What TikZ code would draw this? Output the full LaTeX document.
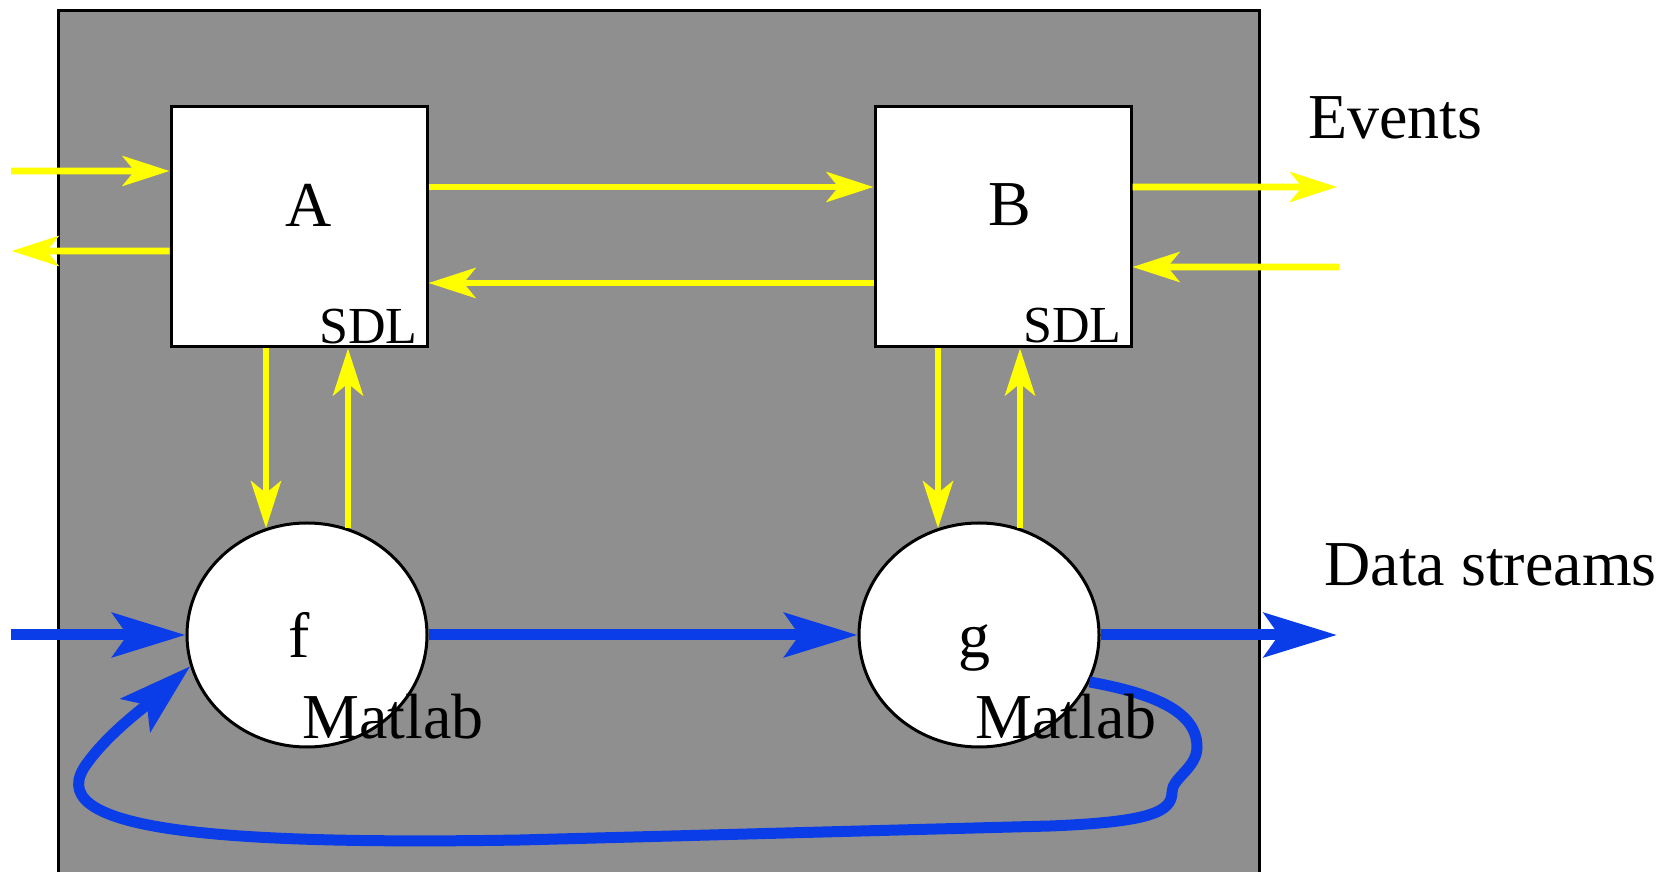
\documentclass[tikz,border=0pt]{standalone}
\usepackage{fontspec}
\setmainfont{Liberation Serif}
\usepackage{xcolor}
\usepackage{tikz}
\usetikzlibrary{arrows.meta,shapes.geometric}
\definecolor{panelgray}{RGB}{143,143,143}
\definecolor{evyellow}{RGB}{255,255,0}
\definecolor{dsblue}{RGB}{10,61,232}

\begin{document}
\begin{tikzpicture}[x=50pt, y=50pt, font=\fontsize{32}{38}\selectfont,
  sdl/.style={draw, line width=1.5pt, fill=white, minimum width=128pt, minimum height=120pt, inner sep=0pt},
  mat/.style={draw, ellipse, line width=1.5pt, fill=white, minimum width=120pt, minimum height=112pt, inner sep=0pt},
  ev/.style={draw=evyellow, line width=3.3pt, -{Stealth[length=23.5pt, width=15pt, inset=6pt]}},
  ds/.style={draw=dsblue, line width=5.5pt, line join=round, -{Stealth[length=36.5pt, width=22pt, inset=7.5pt]}},
  lbl/.style={inner sep=0pt, anchor=base},
  tag/.style={inner sep=0pt, anchor=base west},
  sdltag/.style={inner sep=0pt, anchor=base east, font=\fontsize{26}{30}\selectfont}]
\useasboundingbox (0,0) rectangle (16.73,8.72);
% ================= panel =================
\fill[panelgray] (0.587,0) rectangle (12.59,8.613);
\draw[line width=1.5pt] (0.587,0) -- (0.587,8.613) -- (12.59,8.613) -- (12.59,0);
% ================= SDL blocks and Matlab functions =================
\node[sdl] (A) at (2.99,6.45) {};
\node[sdl] (B) at (10.03,6.45) {};
\node[mat] (f) at (3.07,2.37) {};
\node[mat] (g) at (9.79,2.37) {};
% ================= events (yellow) =================
\coordinate (evinA) at (0.11,7.01);
\coordinate (evoutA) at (0.117,6.21);
\coordinate (evoutB) at (13.37,6.85);
\coordinate (evinB) at (13.39,6.05);
\draw[ev] (evinA) -- ([yshift=28pt]A.west);
\draw[ev] ([yshift=-12pt]A.west) -- (evoutA);
\draw[ev] ([yshift=20pt]A.east) -- ([yshift=20pt]B.west);
\draw[ev] ([yshift=-28pt]B.west) -- ([yshift=-28pt]A.east);
\draw[ev] ([yshift=20pt]B.east) -- (evoutB);
\draw[ev] (evinB) -- ([yshift=-20pt]B.east);
\draw[ev] (A.south -| f.111) -- (f.111);
\draw[ev] (f.69) -- (A.south -| f.69);
\draw[ev] (B.south -| g.111) -- (g.111);
\draw[ev] (g.69) -- (B.south -| g.69);
% ================= data streams (blue) =================
\coordinate (dsin) at (0.11,2.37);
\coordinate (dsout) at (13.37,2.37);
\draw[ds] (dsin) -- (f.west);
\draw[ds] (f.east) -- (g.west);
\draw[ds] (g.east) -- (dsout);
\draw[ds] (g.-23) .. controls (11.50,1.79) and (11.97,1.62) .. (11.97,1.25)
  .. controls (11.97,1.04) and (11.72,0.94) .. (11.72,0.80)
  .. controls (11.72,0.60) and (11.50,0.50) .. (10.50,0.46)
  -- (5.20,0.32)
  .. controls (2.10,0.27) and (0.35,0.42) .. (0.88,1.10)
  .. controls (1.10,1.40) and (1.47,1.67) .. (f.195);
% ================= texts =================
\node[lbl] (tA) at (3.09,6.45) {A};
\node[lbl] (tB) at (10.10,6.46) {B};
\node[sdltag] (sA) at (4.18,5.28) {SDL};
\node[sdltag] (sB) at (11.22,5.29) {SDL};
\node[lbl] (tf) at (2.99,2.14) {f};
\node[lbl] (tg) at (9.74,2.14) {g};
\node[tag] (mf) at (3.02,1.34) {Matlab};
\node[tag] (mg) at (9.75,1.34) {Matlab};
\node[tag] (events) at (13.08,7.33) {Events};
\node[tag] (streams) at (13.24,2.86) {Data streams};
\end{tikzpicture}
\end{document}
